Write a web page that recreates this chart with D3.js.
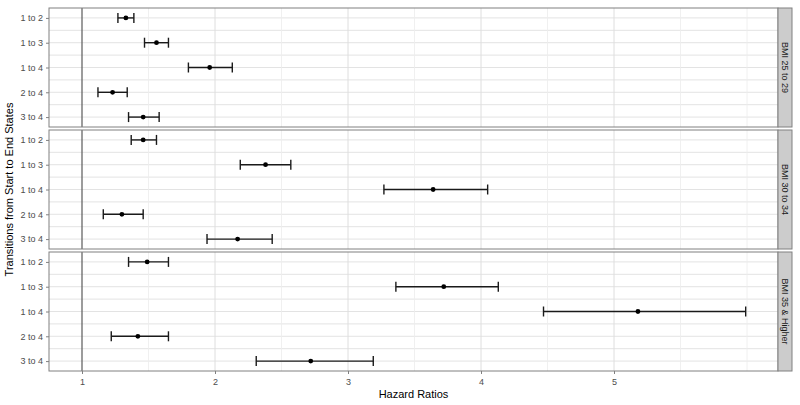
<!DOCTYPE html>
<html>
<head>
<meta charset="utf-8">
<script src="https://cdn.jsdelivr.net/npm/d3@7"></script>
<style>
  body { margin: 0; background: #fff; }
  text { font-family: "Liberation Sans", Arial, sans-serif; }
</style>
</head>
<body>
<div id="chart"></div>
<script>
// Data
const transitions = ["1 to 2", "1 to 3", "1 to 4", "2 to 4", "3 to 4"];
const groups = ["BMI 25 to 29", "BMI 30 to 34", "BMI 35 & Higher"];
const hr = [
  [1.33, 1.56, 1.96, 1.23, 1.46],
  [1.46, 2.38, 3.64, 1.30, 2.17],
  [1.49, 3.72, 5.18, 1.42, 2.72]
];
const lower = [
  [1.27, 1.47, 1.80, 1.12, 1.35],
  [1.37, 2.19, 3.27, 1.16, 1.94],
  [1.35, 3.36, 4.47, 1.22, 2.31]
];
const upper = [
  [1.39, 1.65, 2.13, 1.34, 1.58],
  [1.56, 2.57, 4.05, 1.46, 2.43],
  [1.65, 4.13, 5.99, 1.65, 3.19]
];
const xTicks = [1, 2, 3, 4, 5];
const xMinor = [1.5, 2.5, 3.5, 4.5, 5.5, 6];

const W = 800, H = 405;
const left = 49, right = 778, stripW = 14;
const panelTop = [8, 130, 252], panelH = 119;

const svg = d3.select("#chart").append("svg")
  .attr("width", W).attr("height", H);

const x = d3.scaleLinear().domain([1, 2]).range([82, 215]);

groups.forEach((g, i) => {
  const top = panelTop[i];
  const y = d3.scalePoint().domain(transitions)
    .range([top, top + panelH]).padding(0.4);
  const p = svg.append("g");

  p.append("rect")
    .attr("x", left).attr("y", top)
    .attr("width", right - left).attr("height", panelH)
    .attr("fill", "#fff");

  // horizontal grid: categories and midpoints
  const step = y.step();
  const hLines = [];
  transitions.forEach(t => { hLines.push(y(t)); hLines.push(y(t) + step / 2); });
  hLines.push(y(transitions[0]) - step / 2);
  p.selectAll(".hg").data(hLines.filter(v => v > top && v < top + panelH)).enter()
    .append("line")
    .attr("x1", left).attr("x2", right)
    .attr("y1", d => d).attr("y2", d => d)
    .attr("stroke", "#e3e3e3").attr("stroke-width", 1);

  // vertical grid
  p.selectAll(".vm").data(xMinor).enter().append("line")
    .attr("x1", d => x(d)).attr("x2", d => x(d))
    .attr("y1", top).attr("y2", top + panelH)
    .attr("stroke", "#ececec").attr("stroke-width", 0.8);
  p.selectAll(".vM").data(xTicks.slice(1)).enter().append("line")
    .attr("x1", d => x(d)).attr("x2", d => x(d))
    .attr("y1", top).attr("y2", top + panelH)
    .attr("stroke", "#dedede").attr("stroke-width", 1);

  // reference line at HR = 1
  p.append("line")
    .attr("x1", x(1)).attr("x2", x(1))
    .attr("y1", top).attr("y2", top + panelH)
    .attr("stroke", "#5a5a5a").attr("stroke-width", 1.2);

  // error bars
  const rows = transitions.map((t, j) => ({ t, est: hr[i][j], lo: lower[i][j], hi: upper[i][j] }));
  const eb = p.selectAll(".eb").data(rows).enter().append("g");
  eb.append("line")
    .attr("x1", d => x(d.lo)).attr("x2", d => x(d.hi))
    .attr("y1", d => y(d.t)).attr("y2", d => y(d.t))
    .attr("stroke", "#1a1a1a").attr("stroke-width", 1.4);
  eb.append("line")
    .attr("x1", d => x(d.lo)).attr("x2", d => x(d.lo))
    .attr("y1", d => y(d.t) - 5).attr("y2", d => y(d.t) + 5)
    .attr("stroke", "#1a1a1a").attr("stroke-width", 1.4);
  eb.append("line")
    .attr("x1", d => x(d.hi)).attr("x2", d => x(d.hi))
    .attr("y1", d => y(d.t) - 5).attr("y2", d => y(d.t) + 5)
    .attr("stroke", "#1a1a1a").attr("stroke-width", 1.4);
  eb.append("circle")
    .attr("cx", d => x(d.est)).attr("cy", d => y(d.t))
    .attr("r", 2.4).attr("fill", "#000");

  // panel border
  p.append("rect")
    .attr("x", left).attr("y", top)
    .attr("width", right - left).attr("height", panelH)
    .attr("fill", "none").attr("stroke", "#808080").attr("stroke-width", 1);

  // y axis
  const yAxis = p.append("g")
    .attr("transform", `translate(${left},0)`)
    .call(d3.axisLeft(y).tickSize(3).tickPadding(3));
  yAxis.select(".domain").remove();
  yAxis.selectAll(".tick line").attr("stroke", "#808080");
  yAxis.selectAll(".tick text").attr("fill", "#4d4d4d").style("font-size", "9px");

  // strip
  p.append("rect")
    .attr("x", right).attr("y", top)
    .attr("width", stripW).attr("height", panelH)
    .attr("fill", "#cccccc").attr("stroke", "#808080").attr("stroke-width", 1);
  p.append("text")
    .attr("transform", `translate(${right + stripW / 2},${top + panelH / 2}) rotate(90)`)
    .attr("text-anchor", "middle").attr("dy", "0.35em")
    .attr("fill", "#1a1a1a").style("font-size", "9px")
    .text(g);
});

// x axis under the bottom panel
const bottom = panelTop[2] + panelH;
const xAxis = svg.append("g")
  .attr("transform", `translate(0,${bottom})`)
  .call(d3.axisBottom(x).tickValues(xTicks).tickFormat(d3.format("d")).tickSize(3).tickPadding(5));
xAxis.select(".domain").remove();
xAxis.selectAll(".tick line").attr("stroke", "#808080");
xAxis.selectAll(".tick text").attr("fill", "#4d4d4d").style("font-size", "9px");

svg.append("text")
  .attr("x", (left + right) / 2).attr("y", 398)
  .attr("text-anchor", "middle").style("font-size", "11px").attr("fill", "#000")
  .text("Hazard Ratios");

svg.append("text")
  .attr("transform", `translate(13,${(panelTop[0] + bottom) / 2}) rotate(-90)`)
  .attr("text-anchor", "middle").style("font-size", "11px").attr("fill", "#000")
  .text("Transitions from Start to End States");
</script>
</body>
</html>
